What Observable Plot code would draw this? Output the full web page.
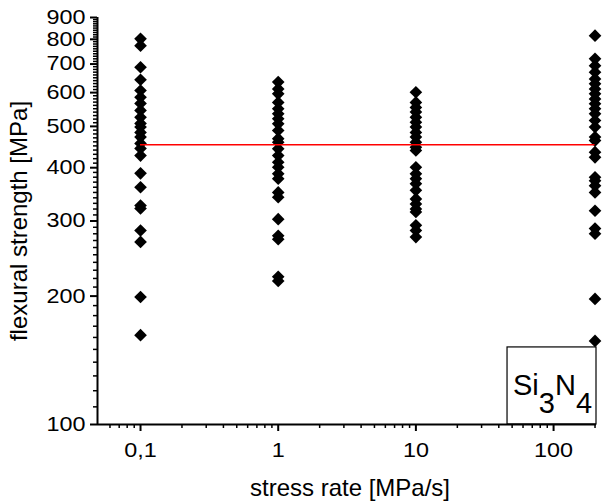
<!DOCTYPE html>
<html>
<head>
<meta charset="utf-8">
<script src="https://cdn.jsdelivr.net/npm/d3@7"></script>
<script src="https://cdn.jsdelivr.net/npm/@observablehq/plot@0.6"></script>
<style>
  html, body { margin: 0; padding: 0; background: white; }
  #chart svg { display: block; }
</style>
</head>
<body>
<div id="chart"></div>
<script>
// stress rates (MPa/s) of the four test series
const rates = [0.1, 1, 10, 200];

// flexural strength values (MPa) per stress rate
const strength01 = [802, 773, 688, 643, 607, 585, 566, 545, 525, 508, 498, 484, 472, 456, 444, 427, 388, 360, 326, 321, 285, 268, 199, 162];
const strength1 = [635, 612, 596, 569, 550, 535, 521, 507, 489, 468, 459, 443, 427, 412, 401, 387, 377, 350, 341, 303, 277, 272, 222, 217];
const strength10 = [601, 569, 554, 540, 525, 511, 498, 484, 472, 459, 447, 439, 401, 387, 377, 367, 354, 338, 329, 320, 315, 293, 285, 275];
const strength200 = [816, 720, 694, 670, 646, 629, 612, 596, 580, 565, 550, 535, 516, 498, 472, 463, 435, 423, 380, 373, 363, 350, 317, 288, 280, 197, 157];

// mean strength line
const meanStrength = 453;

// axis ticks
const xDomain = [0.0487, 205];
const yDomain = [100, 900];
const xMajorTicks = [0.1, 1, 10, 100];
const xMinorTicks = [0.06, 0.07, 0.08, 0.09, 0.2, 0.3, 0.4, 0.5, 0.6, 0.7, 0.8, 0.9, 2, 3, 4, 5, 6, 7, 8, 9, 20, 30, 40, 50, 60, 70, 80, 90, 200];
const yMajorTicks = [100, 200, 300, 400, 500, 600, 700, 800, 900];
const yMinorTicks = d3.range(110, 900, 10).filter(v => v % 100 !== 0);

const xLabel = "stress rate [MPa/s]";
const yLabel = "flexural strength [MPa]";

const series = [strength01, strength1, strength10, strength200];
const points = series.flatMap((vals, i) => vals.map(v => ({rate: rates[i], strength: v})));

const legendBox = [{x1: 46.3, x2: xDomain[1], y1: yDomain[0], y2: 151.6}];

const font = "'Liberation Sans', Arial, sans-serif";

const chart = Plot.plot({
  width: 602,
  height: 504,
  marginLeft: 97,
  marginRight: 6,
  marginTop: 17,
  marginBottom: 80,
  style: {fontFamily: font, fontSize: "20px", background: "white", color: "black", overflow: "visible"},
  x: {type: "log", domain: xDomain},
  y: {type: "log", domain: yDomain},
  marks: [
    Plot.rect(legendBox, {x1: "x1", x2: "x2", y1: "y1", y2: "y2", fill: "white", stroke: "black", strokeWidth: 1.2}),
    Plot.axisY({ticks: yMinorTicks, tickSize: 4, tickFormat: () => "", label: null, strokeWidth: 1.5}),
    Plot.axisY({ticks: yMajorTicks, tickSize: 7, tickPadding: 5, tickFormat: d => String(d), label: null, strokeWidth: 2, fontSize: 20}),
    Plot.axisX({ticks: xMinorTicks, tickSize: 4, tickFormat: () => "", label: null, strokeWidth: 1.5}),
    Plot.axisX({ticks: xMajorTicks, tickSize: 7, tickPadding: 11, tickFormat: d => String(d).replace(".", ","), label: null, strokeWidth: 2, fontSize: 20}),
    Plot.ruleX([xDomain[0]], {stroke: "black", strokeWidth: 2}),
    Plot.ruleY([yDomain[0]], {stroke: "black", strokeWidth: 2}),
    Plot.dot(points, {x: "rate", y: "strength", symbol: "diamond2", r: 5.7, fill: "black", stroke: "none"}),
    Plot.ruleY([meanStrength], {x1: rates[0], x2: rates[rates.length - 1], stroke: "red", strokeWidth: 1.5}),
    Plot.text([xLabel], {frameAnchor: "bottom", lineAnchor: "middle", textAnchor: "middle", dy: 64, dx: 3, text: d => d, fontSize: 24, fill: "black"}),
    Plot.text([yLabel], {frameAnchor: "left", lineAnchor: "middle", textAnchor: "middle", dx: -78, rotate: -90, text: d => d, fontSize: 24, fill: "black"})
  ]
});

document.getElementById("chart").appendChild(chart);

const svg = d3.select(chart);

// widen tick label glyphs horizontally, as in the reference
svg.selectAll('g[aria-label="y-axis tick label"] text, g[aria-label="x-axis tick label"] text').each(function () {
  const tr = this.getAttribute("transform");
  if (tr) this.setAttribute("transform", tr + " scale(1.17,1)");
});

// Si3N4 label with subscripts inside legend box
const t = svg.append("text")
  .attr("x", 513).attr("y", 395)
  .attr("text-anchor", "start")
  .attr("font-family", font).attr("font-size", 29).attr("fill", "black");
t.append("tspan").text("Si");
t.append("tspan").attr("dy", 18).text("3");
t.append("tspan").attr("dy", -18).text("N");
t.append("tspan").attr("dy", 18).text("4");
</script>
</body>
</html>
